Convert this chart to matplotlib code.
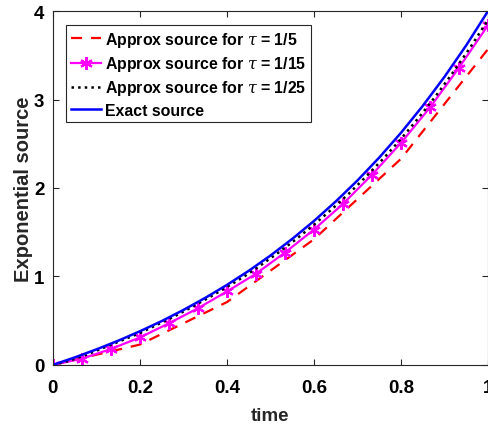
import numpy as np
import matplotlib
matplotlib.use('Agg')
import matplotlib.pyplot as plt

plt.rcParams['font.family'] = ['Liberation Sans', 'DejaVu Sans']
plt.rcParams['font.weight'] = 'bold'
plt.rcParams['mathtext.fontset'] = 'custom'
plt.rcParams['mathtext.it'] = 'DejaVu Serif:italic:weight=normal'
plt.rcParams['mathtext.rm'] = 'Liberation Sans:bold'

# exact source, read every 0.05
t_exact = [0, 0.05, 0.1, 0.15, 0.2, 0.25, 0.3, 0.35, 0.4, 0.45, 0.5,
           0.55, 0.6, 0.65, 0.7, 0.75, 0.8, 0.85, 0.9, 0.95, 1.0]
f_exact = [0, 0.084, 0.175, 0.273, 0.380, 0.495, 0.621, 0.757, 0.904, 1.063, 1.236,
           1.424, 1.627, 1.847, 2.085, 2.344, 2.624, 2.928, 3.257, 3.613, 4.0]

# tau = 1/5
t_5 = [0, 0.2, 0.4, 0.6, 0.8, 1.0]
f_5 = [0, 0.23, 0.71, 1.42, 2.33, 3.57]

# tau = 1/15
t_15 = [k / 15 for k in range(16)]
f_15 = [0, 0.07, 0.18, 0.31, 0.47, 0.64, 0.83, 1.03, 1.27, 1.53,
        1.82, 2.15, 2.51, 2.91, 3.36, 3.84]

# tau = 1/25
t_25 = [k / 25 for k in range(26)]
f_25 = [0, 0.05, 0.12, 0.2, 0.28, 0.36, 0.455, 0.55, 0.655, 0.765, 0.88, 1.0, 1.135,
        1.275, 1.425, 1.585, 1.755, 1.935, 2.13, 2.335, 2.555, 2.79, 3.04, 3.31, 3.595, 3.9]

fig = plt.figure(figsize=(4.89, 4.31), dpi=100)
ax = fig.add_axes([0.108, 0.151, 0.89, 0.821])

ax.plot(t_5, f_5, '--', color='red', lw=1.6, dashes=(5, 4), label=r'Approx source for $\tau$ = 1/5')
ax.plot(t_15, f_15, '-', marker=(6, 2, 0), color='magenta', lw=1.6, ms=9, mew=1.6,
        label=r'Approx source for $\tau$ = 1/15')
ax.plot(t_25, f_25, ':', color='black', lw=1.8, label=r'Approx source for $\tau$ = 1/25')
ax.plot(t_exact, f_exact, '-', color='blue', lw=1.8, label='Exact source')

ax.set_xlim(0, 1)
ax.set_ylim(0, 4)
ax.set_xticks([0, 0.2, 0.4, 0.6, 0.8, 1])
ax.set_xticklabels(['0', '0.2', '0.4', '0.6', '0.8', '1'])
ax.set_yticks([0, 1, 2, 3, 4])
ax.tick_params(direction='in', top=True, right=True, labelsize=13.5, length=4, color='#262626')
ax.tick_params(axis='x', pad=10)
ax.tick_params(axis='y', pad=6)
for s in ax.spines.values():
    s.set_color('#262626')
    s.set_linewidth(0.8)

ax.set_xlabel('time', fontsize=13.5, fontweight='bold', color='#262626', labelpad=8)
ax.set_ylabel('Exponential source', fontsize=14.5, fontweight='bold', color='#262626', labelpad=1)

leg = ax.legend(loc='upper left', bbox_to_anchor=(0.031, 0.96), fontsize=11.4,
                handlelength=1.9, handletextpad=0.25, borderpad=0.3, labelspacing=0.33,
                fancybox=False, framealpha=1, edgecolor='#262626', borderaxespad=0)
leg.get_frame().set_linewidth(0.8)

fig.savefig('out.png', dpi=100)
